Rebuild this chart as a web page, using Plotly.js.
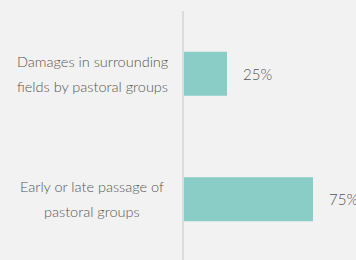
<!DOCTYPE html>
<html>
<head>
<meta charset="utf-8">
<script src="https://cdn.plot.ly/plotly-3.0.1.min.js"></script>
<style>html,body{margin:0;padding:0;background:#f2f2f2;}#chart{width:356px;height:260px;}</style>
</head>
<body>
<div id="chart"></div>
<script>
const categories = ["Damages in surrounding<br>fields by pastoral groups", "Early or late passage of<br>pastoral groups"];
const values = [25, 75];
const valueLabels = ["25%", "75%"];

const textColor = "#555555";
const fontFam = "Lato, 'Open Sans', sans-serif";
const lineGap = 25;

const annotations = [];
categories.forEach((c, i) => {
  const lines = c.split("<br>");
  lines.forEach((ln, j) => {
    annotations.push({x: 0, y: c, xref: "x", yref: "y", text: ln, showarrow: false,
      xanchor: "center", align: "center", xshift: -92,
      yshift: ((lines.length - 1) / 2 - j) * lineGap,
      font: {family: fontFam, size: 14.5, weight: 300, color: textColor}});
  });
  annotations.push({x: values[i], y: c, xref: "x", yref: "y", text: valueLabels[i], showarrow: false,
    xanchor: "left", xshift: 14, font: {family: fontFam, size: 15, weight: 300, color: textColor}});
});

Plotly.newPlot("chart", [{
  type: "bar", orientation: "h", x: values, y: categories,
  marker: {color: "#89cdc6"}, hoverinfo: "none"
}], {
  width: 356, height: 260,
  margin: {l: 184, r: 0, t: 11, b: 0},
  paper_bgcolor: "#f2f2f2", plot_bgcolor: "#f2f2f2",
  bargap: 0.65,
  showlegend: false,
  xaxis: {range: [0, 100], visible: false, fixedrange: true},
  yaxis: {type: "category", range: [1.484, -0.5], showticklabels: false, showgrid: false, zeroline: false,
    showline: true, linecolor: "#dcdcdc", linewidth: 2, ticks: "", fixedrange: true},
  annotations: annotations
}, {displayModeBar: false, staticPlot: true});
</script>
</body>
</html>
